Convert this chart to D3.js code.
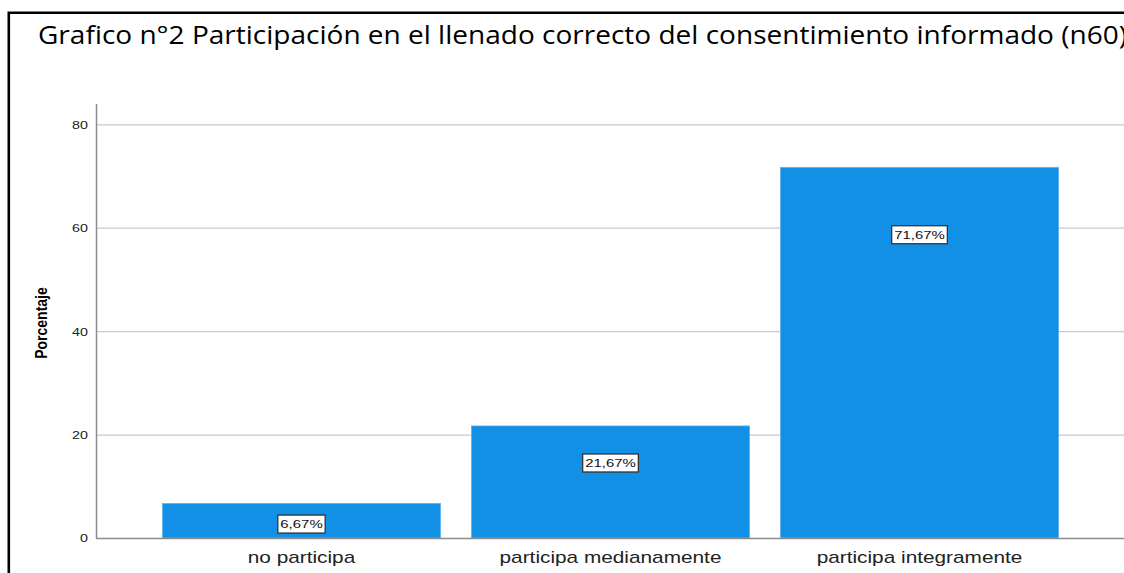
<!DOCTYPE html>
<html>
<head>
<meta charset="utf-8">
<script src="https://cdn.jsdelivr.net/npm/d3@7"></script>
<style>
  body { margin: 0; background: #fff; }
  svg { display: block; }
</style>
</head>
<body>
<svg></svg>
<script>
const categories = ['no participa', 'participa medianamente', 'participa integramente'];
const percentages = [6.67, 21.67, 71.67];
const yTicks = [0, 20, 40, 60, 80];
const title = 'Grafico n°2 Participación en el llenado correcto del consentimiento informado (n60)';
const yTitle = 'Porcentaje';

const width = 1124;
const height = 573;
const stretch = 1.3; // the source picture is stretched sideways

const svg = d3.select('svg')
  .attr('width', width)
  .attr('height', height);

// FRAME
svg.append('path')
  .attr('d', `M8.8,${height + 2} V12.8 H${width + 2}`)
  .attr('fill', 'none')
  .attr('stroke', '#000')
  .attr('stroke-width', 2.6);

svg.append('text')
  .attr('x', 38)
  .attr('y', 43.5)
  .attr('font-family', '"Open Sans", Lato, sans-serif')
  .attr('font-size', 25.5)
  .attr('fill', '#000')
  .attr('textLength', 1089)
  .attr('lengthAdjust', 'spacingAndGlyphs')
  .text(title);

// SCALES
const x = d3.scaleBand()
  .domain(categories)
  .range([96, 1125])
  .paddingInner(0.1)
  .paddingOuter(0.215);

const y = d3.scaleLinear()
  .domain([0, 84])
  .range([538, 103.6]);

// GRID
svg.append('g')
  .selectAll('line')
  .data(yTicks.filter(t => t > 0))
  .enter().append('line')
  .attr('x1', 96)
  .attr('x2', width)
  .attr('y1', t => y(t) + 0.5)
  .attr('y2', t => y(t) + 0.5)
  .attr('stroke', '#cacaca')
  .attr('stroke-width', 1.2);

// BARS
svg.append('g')
  .selectAll('rect')
  .data(percentages)
  .enter().append('rect')
  .attr('x', (d, i) => x(categories[i]))
  .attr('y', d => y(d))
  .attr('width', x.bandwidth())
  .attr('height', d => y(0) - y(d))
  .attr('fill', '#1290e6')
  .attr('stroke', '#5fb2ee')
  .attr('stroke-width', 0.8);

// Y AXIS
const yAxis = svg.append('g')
  .attr('transform', 'translate(96,0)')
  .call(d3.axisLeft(y).tickValues(yTicks).tickSize(0).tickPadding(0));
yAxis.select('.domain')
  .attr('stroke', '#8c8c8c')
  .attr('stroke-width', 1.5);
yAxis.selectAll('text')
  .attr('font-family', '"Liberation Sans", Arial, sans-serif')
  .attr('font-size', 11)
  .attr('fill', '#222')
  .attr('x', -8 / stretch)
  .attr('dy', '0.36em')
  .attr('transform', `scale(${stretch},1)`);

// X AXIS
svg.append('line')
  .attr('x1', 96)
  .attr('x2', width)
  .attr('y1', y(0) + 0.5)
  .attr('y2', y(0) + 0.5)
  .attr('stroke', '#8c8c8c')
  .attr('stroke-width', 1.5);

svg.append('g')
  .selectAll('text')
  .data(categories)
  .enter().append('text')
  .attr('transform', c => `translate(${x(c) + x.bandwidth() / 2},562.5) scale(${stretch},1)`)
  .attr('text-anchor', 'middle')
  .attr('font-family', '"Liberation Sans", Arial, sans-serif')
  .attr('font-size', 16)
  .attr('fill', '#222')
  .text(c => c);

svg.append('text')
  .attr('transform', 'translate(47,323) rotate(-90) scale(1,1.15)')
  .attr('text-anchor', 'middle')
  .attr('font-family', '"Liberation Sans", Arial, sans-serif')
  .attr('font-weight', 'bold')
  .attr('font-size', 14)
  .attr('fill', '#000')
  .text(yTitle);

// VALUE LABELS
const fmt = v => v.toFixed(2).replace('.', ',') + '%';
const labelY = v => {
  const h = y(0) - y(v);
  return y(v) + 3.5 * Math.sqrt(h);
};

const labels = svg.append('g')
  .selectAll('g')
  .data(percentages)
  .enter().append('g')
  .attr('transform', (d, i) => `translate(${x(categories[i]) + x.bandwidth() / 2},${labelY(d)})`);

const boxes = labels.append('rect')
  .attr('fill', '#fff')
  .attr('stroke', '#333')
  .attr('stroke-width', 1.3);

const labelTexts = labels.append('text')
  .attr('transform', `scale(${stretch},1)`)
  .attr('text-anchor', 'middle')
  .attr('dy', '0.36em')
  .attr('font-family', '"Liberation Sans", Arial, sans-serif')
  .attr('font-size', 11.5)
  .attr('fill', '#111')
  .text(fmt);

labelTexts.each(function (d, i) {
  const w = this.getComputedTextLength() * stretch + 5;
  d3.select(boxes.nodes()[i])
    .attr('x', -w / 2)
    .attr('y', -9)
    .attr('width', w)
    .attr('height', 18);
});
</script>
</body>
</html>
